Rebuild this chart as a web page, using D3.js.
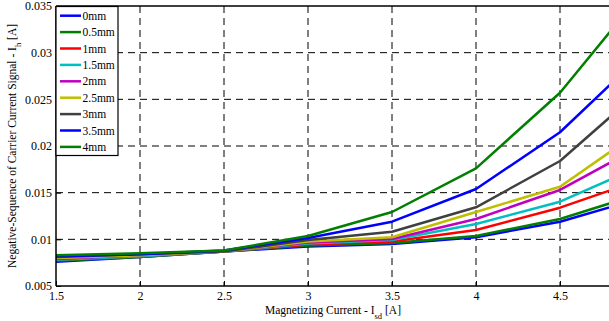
<!DOCTYPE html>
<html lang="en">
<head>
  <meta charset="UTF-8">
  <title>Negative-sequence carrier current</title>
  <script src="https://d3js.org/d3.v7.min.js"></script>
  <style>
    body { margin: 0; background: #fff; }
  </style>
</head>
<body>
  <svg id="chart" width="609" height="321"></svg>
  <script>
    // x values (magnetizing current) and one series per eccentricity
    const currents = [1.5, 2, 2.5, 3, 3.5, 4, 4.5, 5];
    const labels = ['0mm', '0.5mm', '1mm', '1.5mm', '2mm', '2.5mm', '3mm', '3.5mm', '4mm'];
    const colors = ['#0000ff', '#007f00', '#ff0000', '#00bfbf', '#bf00bf', '#bfbf00', '#404040', '#0000ff', '#007f00'];
    const s0mm   = [0.0076, 0.0081, 0.0087, 0.00923, 0.0095, 0.01022, 0.01189, 0.0145];
    const s05mm  = [0.0077, 0.0081, 0.0087, 0.00934, 0.00961, 0.01036, 0.01218, 0.0150];
    const s1mm   = [0.0078, 0.0082, 0.0087, 0.00945, 0.00977, 0.0110, 0.01339, 0.0165];
    const s15mm  = [0.0078, 0.0082, 0.0087, 0.00955, 0.00993, 0.01164, 0.01403, 0.0180];
    const s2mm   = [0.0079, 0.0083, 0.0087, 0.00966, 0.01004, 0.01218, 0.01529, 0.0202];
    const s25mm  = [0.0080, 0.0083, 0.0087, 0.00977, 0.01022, 0.01293, 0.01564, 0.0219];
    const s3mm   = [0.0081, 0.0084, 0.0087, 0.00993, 0.01082, 0.01343, 0.01839, 0.0263];
    const s35mm  = [0.0082, 0.0084, 0.0088, 0.01014, 0.01189, 0.01539, 0.02147, 0.0300];
    const s4mm   = [0.0083, 0.0085, 0.0088, 0.01036, 0.01293, 0.01761, 0.0257, 0.0367];
    const series = [s0mm, s05mm, s1mm, s15mm, s2mm, s25mm, s3mm, s35mm, s4mm];
    const xTicks = [1.5, 2, 2.5, 3, 3.5, 4, 4.5];
    const yTicks = [0.005, 0.01, 0.015, 0.02, 0.025, 0.03, 0.035];

    const svg = d3.select('svg#chart');
    const plotLeft = 56, plotTop = 6, plotBottom = 286, plotRight = 609;
    const serif = '"Liberation Serif", "Times New Roman", serif';

    const xScale = d3.scaleLinear().domain([1.5, 5]).range([plotLeft, plotLeft + 3.5 * 168]);
    const yScale = d3.scaleLinear().domain([0.005, 0.035]).range([plotBottom, plotTop]);

    svg.append('defs').append('clipPath').attr('id', 'plot-clip')
      .append('rect').attr('x', plotLeft).attr('y', plotTop)
      .attr('width', plotRight - plotLeft).attr('height', plotBottom - plotTop);

    // dashed grid
    let grid = svg.append('g').attr('class', 'grid');
    grid.selectAll('line.gx').data(xTicks.slice(1)).join('line')
      .attr('x1', d => xScale(d)).attr('x2', d => xScale(d))
      .attr('y1', plotTop).attr('y2', plotBottom)
      .attr('stroke', '#000').attr('stroke-width', 1).attr('stroke-dasharray', '7,5');
    grid.selectAll('line.gy').data(yTicks.slice(1, -1)).join('line')
      .attr('x1', plotLeft).attr('x2', plotRight)
      .attr('y1', d => yScale(d)).attr('y2', d => yScale(d))
      .attr('stroke', '#000').attr('stroke-width', 1).attr('stroke-dasharray', '7,5');

    // lines
    const line = d3.line().x((d, i) => xScale(currents[i])).y(d => yScale(d));
    svg.append('g').attr('clip-path', 'url(#plot-clip)')
      .selectAll('path').data(series).join('path')
      .attr('d', line)
      .attr('fill', 'none')
      .attr('stroke', (d, i) => colors[i])
      .attr('stroke-width', 2.5)
      .attr('stroke-linejoin', 'round');

    // axes (ticks inside, like MATLAB)
    let bottomAxis = d3.axisBottom(xScale).tickValues(xTicks).tickSizeInner(-5).tickSizeOuter(0)
      .tickPadding(5).tickFormat(d3.format(''));
    let xg = svg.append('g').attr('transform', 'translate(0,' + plotBottom + ')').call(bottomAxis);
    xg.select('.domain').remove();
    xg.selectAll('text').style('font-family', serif).style('font-size', '12px').attr('fill', '#000');

    let leftAxis = d3.axisLeft(yScale).tickValues(yTicks).tickSizeInner(-5).tickSizeOuter(0)
      .tickPadding(4).tickFormat(d3.format(''));
    let yg = svg.append('g').attr('transform', 'translate(' + plotLeft + ',0)').call(leftAxis);
    yg.select('.domain').remove();
    yg.selectAll('text').style('font-family', serif).style('font-size', '12px').attr('fill', '#000');

    // frame
    svg.append('line').attr('x1', plotLeft).attr('x2', plotLeft).attr('y1', plotTop).attr('y2', plotBottom)
      .attr('stroke', '#000').attr('stroke-width', 1.5);
    svg.append('line').attr('x1', plotLeft).attr('x2', plotRight).attr('y1', plotBottom).attr('y2', plotBottom)
      .attr('stroke', '#000').attr('stroke-width', 1.5);
    svg.append('line').attr('x1', plotLeft).attr('x2', plotRight).attr('y1', plotTop).attr('y2', plotTop)
      .attr('stroke', '#000').attr('stroke-width', 1.5);

    // axis labels
    let xl = svg.append('text').attr('x', 333).attr('y', 314)
      .style('text-anchor', 'middle').style('font-family', serif).style('font-size', '11.5px');
    xl.append('tspan').text('Magnetizing Current - I');
    xl.append('tspan').attr('baseline-shift', 'sub').style('font-size', '8.5px').text('sd');
    xl.append('tspan').text(' [A]');

    let yl = svg.append('text').attr('transform', 'translate(16,' + 146 + ') rotate(-90)')
      .style('text-anchor', 'middle').style('font-family', serif).style('font-size', '11.5px');
    yl.append('tspan').text('Negative-Sequence of Carrier Current Signal - I');
    yl.append('tspan').attr('baseline-shift', 'sub').style('font-size', '8.5px').text('h');
    yl.append('tspan').text(' [A]');

    // legend
    let legend = svg.append('g').attr('class', 'legend');
    legend.append('rect').attr('x', 56).attr('y', 6.5).attr('width', 62).attr('height', 149)
      .attr('fill', '#fff').attr('stroke', '#000').attr('stroke-width', 1.2);
    const entries = legend.selectAll('g.entry').data(labels).join('g')
      .attr('transform', (d, i) => 'translate(0,' + (15.7 + i * 16.4) + ')');
    entries.append('line').attr('x1', 60).attr('x2', 81).attr('y1', 0).attr('y2', 0)
      .attr('stroke', (d, i) => colors[i]).attr('stroke-width', 2.5);
    entries.append('text').attr('x', 82.5).attr('y', 4)
      .style('font-family', serif).style('font-size', '11.5px').text(d => d);
  </script>
</body>
</html>
